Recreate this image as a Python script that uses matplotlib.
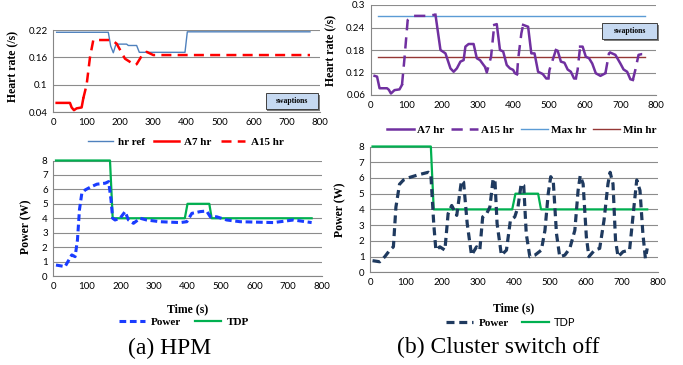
import numpy as np
import matplotlib
matplotlib.use("Agg")
import matplotlib.pyplot as plt
from matplotlib.lines import Line2D
from matplotlib.patches import Rectangle

N = None

# ---------------- (a) HPM : heart rate ----------------
t_ref = [10, 165, 172, 180, 188, 220, 225, 250, 258, 395, 402, 770]
hr_ref = [0.215, 0.215, 0.185, 0.170, 0.189, 0.189, 0.186, 0.186, 0.171, 0.171, 0.216, 0.216]

t_a = [10, 50, 55, 62, 70, 85, 90, 100, 110, 120, 175, 190, 215, 245, 250, 265, 280, 300, 770]
a7_a = [0.060, 0.060, 0.050, 0.044, 0.048, 0.050, 0.070, N, N, N, N, N, N, N, N, N, N, N, N]
a15_a = [N, N, N, N, N, N, 0.070, 0.100, 0.160, 0.198, 0.198, 0.190, 0.157, 0.143, 0.145, 0.163, 0.172, 0.165, 0.165]

# ---------------- (a) HPM : power ----------------
t_pa = [8, 35, 55, 65, 72, 78, 85, 95, 110, 130, 155, 165, 172, 177, 184, 199, 214, 224, 239, 259,
        278, 318, 378, 398, 413, 438, 457, 468, 487, 517, 557, 656, 716, 770]
pw_a = [0.76, 0.65, 1.46, 1.34, 2.5, 4.6, 5.73, 5.96, 6.15, 6.36, 6.43, 6.54, 5.27, 4.0, 3.88, 4.0,
        4.46, 3.88, 3.65, 4.0, 3.88, 3.76, 3.7, 3.76, 4.34, 4.46, 4.5, 4.1, 4.1, 3.88, 3.76, 3.7, 3.88, 3.7]
t_tdp_a = [8, 169, 177, 392, 400, 465, 472, 770]
tdp_a = [8, 8, 4, 4, 5, 5, 4, 4]

# ---------------- (b) Cluster switch off : heart rate ----------------
t_b = [10, 17, 24, 45, 50, 56, 66, 80, 87, 94, 103, 117, 154, 181, 195, 209, 223, 232, 241, 251,
       260, 265, 274, 288, 297, 306, 316, 320, 325, 337, 346, 353, 362, 371, 381, 390, 399, 404, 410,
       413, 422, 427, 441, 450, 459, 469, 482, 492, 498, 501, 519, 524, 533, 543, 552, 561, 570, 575,
       580, 587, 594, 603, 612, 621, 631, 644, 658, 668, 672, 686, 700, 709, 719, 728, 735, 742, 751,
       760, 770]
a7_b = [0.111, 0.109, 0.078, 0.078, 0.074, 0.064, 0.073, 0.075, 0.087, N, N, N, N, 0.274, 0.180, 0.171,
        0.131, 0.122, 0.131, 0.149, 0.153, 0.189, 0.196, 0.196, 0.158, 0.153, 0.140, 0.135, N, N, 0.247,
        0.249, 0.180, 0.176, 0.140, 0.131, 0.127, 0.118, 0.115, N, N, 0.247, 0.242, 0.171, 0.171, 0.122,
        0.116, 0.104, 0.104, N, 0.180, 0.178, 0.149, 0.146, 0.128, 0.122, 0.104, 0.104, N, 0.189, 0.189,
        0.162, 0.158, 0.144, 0.118, 0.111, 0.118, N, 0.173, 0.167, 0.144, 0.128, 0.122, 0.102, 0.100,
        N, N, N, N]
a15_b = [N, N, N, N, N, N, N, N, 0.087, 0.158, 0.260, 0.271, 0.271, 0.274, N, N, N, N, N, N,
         N, N, N, N, N, N, N, 0.135, 0.120, 0.162, 0.247, N, N, N, N, N, N, N, 0.115,
         0.155, 0.224, 0.247, N, N, N, N, N, N, 0.104, 0.127, 0.180, N, N, N, N, N, N, 0.104,
         0.127, 0.189, N, N, N, N, N, N, 0.118, 0.171, 0.173, N, N, N, N, N, 0.100, 0.127, 0.167,
         0.169, 0.169]
t_lim = [20, 770]
max_hr = [0.271, 0.271]
min_hr = [0.161, 0.161]

# ---------------- (b) Cluster switch off : power ----------------
t_pb = [7, 27, 41, 55, 65, 72, 82, 93, 111, 134, 162, 169, 177, 183, 194, 208, 217, 227, 241, 254,
        260, 270, 282, 296, 305, 313, 324, 333, 342, 347, 353, 365, 379, 390, 402, 411, 420, 427, 434,
        444, 458, 476, 486, 495, 502, 509, 518, 527, 541, 555, 569, 578, 584, 592, 601, 608, 624, 638,
        650, 661, 667, 675, 682, 689, 703, 721, 735, 741, 750, 758, 765, 770]
pw_b = [0.74, 0.67, 0.99, 1.41, 1.62, 4.15, 5.6, 5.87, 6.04, 6.2, 6.36, 6.25, 3.1, 1.41, 1.62, 1.41,
        3.73, 4.25, 3.62, 5.83, 5.73, 3.1, 1.09, 1.62, 1.41, 3.52, 3.73, 4.15, 5.94, 5.87, 3.1, 1.09,
        1.41, 3.3, 3.52, 4.15, 5.62, 5.52, 2.46, 0.99, 1.09, 1.41, 2.67, 4.99, 6.08, 5.83, 2.46, 0.99,
        1.09, 1.52, 2.67, 5.2, 6.15, 5.62, 2.25, 0.99, 1.41, 1.52, 3.3, 5.62, 6.36, 5.62, 2.04, 0.99,
        1.31, 1.41, 4.57, 5.87, 5.2, 2.46, 0.88, 1.52]
t_tdp_b = [7, 169, 177, 395, 404, 467, 475, 770]
tdp_b = [8, 8, 4, 4, 5, 5, 4, 4]

hr_ticks_a = [0.04, 0.1, 0.16, 0.22]
hr_ticks_b = [0.06, 0.12, 0.18, 0.24, 0.3]
pw_ticks = [0, 1, 2, 3, 4, 5, 6, 7, 8]
x_ticks = [0, 100, 200, 300, 400, 500, 600, 700, 800]


def arr(v):
    return np.array([np.nan if x is None else x for x in v], dtype=float)


W, H = 683, 365
fig = plt.figure(figsize=(W / 100, H / 100), dpi=100)

TICKF = "Lato"
SERIF = "Liberation Serif"


def make_ax(l, r, t, b):
    ax = fig.add_axes([l / W, 1 - b / H, (r - l) / W, (b - t) / H])
    for s in ["top", "right"]:
        ax.spines[s].set_visible(False)
    for s in ["left", "bottom"]:
        ax.spines[s].set_color("#868686")
        ax.spines[s].set_linewidth(0.8)
    ax.grid(axis="y", color="#8c8c8c", linewidth=0.8)
    ax.set_axisbelow(True)
    ax.tick_params(length=0, labelsize=7, pad=4, colors="#000000")
    ax.set_xlim(0, 800)
    ax.set_xticks(x_ticks)
    ax.set_xticklabels([str(v) for v in x_ticks], fontfamily=TICKF, fontsize=7)
    return ax


def ylab(ax, text, x, y):
    ax.set_ylabel(text, fontfamily=SERIF, fontweight="bold", fontsize=8.5)
    ax.yaxis.set_label_coords(x, y)


def fmt(v):
    return f"{v:g}"


def swaptions(ax, x0, x1, y0, y1):
    dx, dy = 0.006, -0.025
    ax.add_patch(Rectangle((x0 + dx, y0 + dy), x1 - x0, y1 - y0, transform=ax.transAxes,
                           facecolor="#7f7f7f", edgecolor="none", clip_on=False, zorder=5))
    ax.add_patch(Rectangle((x0, y0), x1 - x0, y1 - y0, transform=ax.transAxes,
                           facecolor="#c6d9f1", edgecolor="#404040", linewidth=0.7,
                           clip_on=False, zorder=6))
    ax.text((x0 + x1) / 2, (y0 + y1) / 2, "swaptions", transform=ax.transAxes, ha="center",
            va="center", fontfamily=SERIF, fontweight="bold", fontsize=5.5, zorder=7)


# ---- top-left
ax1 = make_ax(53.3, 320, 30, 112)
ax1.plot(t_ref, hr_ref, color="#4f81bd", lw=1.0)
ax1.plot(t_a, arr(a7_a), color="#ff0000", lw=1.8)
ax1.plot(t_a, arr(a15_a), color="#ff0000", lw=1.8, dashes=(4, 2.5))
ax1.set_ylim(0.04, 0.22)
ax1.set_yticks(hr_ticks_a)
ax1.set_yticklabels([fmt(v) for v in hr_ticks_a], fontfamily=TICKF, fontsize=7)
ylab(ax1, "Heart rate (/s)", -0.129, 0.55)
swaptions(ax1, 0.797, 0.993, 0.037, 0.232)

# ---- bottom-left
ax2 = make_ax(53.3, 321.7, 160.5, 276)
ax2.plot(t_tdp_a, tdp_a, color="#00b050", lw=1.6, clip_on=False)
ax2.plot(t_pa, pw_a, color="#1a3cff", lw=2.2, dashes=(2.2, 1.2))
ax2.set_ylim(0, 8)
ax2.set_yticks(pw_ticks)
ax2.set_yticklabels([fmt(v) for v in pw_ticks], fontfamily=TICKF, fontsize=7)
ylab(ax2, "Power (W)", -0.079, 0.43)
ax2.set_xlabel("Time (s)", fontfamily=SERIF, fontweight="bold", fontsize=8.5)
ax2.xaxis.set_label_coords(0.5, -0.233)

# ---- top-right
ax3 = make_ax(371, 656, 5, 95)
ax3.plot(t_lim, max_hr, color="#5b9bd5", lw=1.0)
ax3.plot(t_lim, min_hr, color="#953735", lw=1.0)
ax3.plot(t_b, arr(a7_b), color="#7030a0", lw=1.8)
ax3.plot(t_b, arr(a15_b), color="#7030a0", lw=1.8, dashes=(4.5, 2.8))
ax3.set_ylim(0.06, 0.3)
ax3.set_yticks(hr_ticks_b)
ax3.set_yticklabels([fmt(v) for v in hr_ticks_b], fontfamily=TICKF, fontsize=7)
ylab(ax3, "Heart rate (/s)", -0.119, 0.5)
swaptions(ax3, 0.81, 1.004, 0.622, 0.8)

# ---- bottom-right
ax4 = make_ax(370, 658, 146.5, 272.3)
ax4.plot(t_tdp_b, tdp_b, color="#00b050", lw=1.6, clip_on=False)
ax4.plot(t_pb, pw_b, color="#1f3a5f", lw=2.3, dashes=(2.5, 1.5))
ax4.set_ylim(0, 8)
ax4.set_yticks(pw_ticks)
ax4.set_yticklabels([fmt(v) for v in pw_ticks], fontfamily=TICKF, fontsize=7)
ylab(ax4, "Power (W)", -0.083, 0.5)
ax4.set_xlabel("Time (s)", fontfamily=SERIF, fontweight="bold", fontsize=8.5)
ax4.xaxis.set_label_coords(0.5, -0.24)

# ---- legends
lkw = dict(frameon=False, prop={"family": SERIF, "weight": "bold", "size": 8}, ncol=4,
           loc="center", handlelength=2.4, columnspacing=1.2, handletextpad=0.5)
h1 = [Line2D([], [], color="#4f81bd", lw=1.0),
      Line2D([], [], color="#ff0000", lw=1.8),
      Line2D([], [], color="#ff0000", lw=1.8, dashes=(4, 2.5))]
lkw1 = dict(lkw)
lkw1.update(columnspacing=0.8, handlelength=2.2)
fig.legend(h1, ["hr ref", "A7 hr", "A15 hr"], bbox_to_anchor=(186 / W, 1 - 142 / H), **lkw1)

h3 = [Line2D([], [], color="#7030a0", lw=1.8),
      Line2D([], [], color="#7030a0", lw=1.8, dashes=(4.5, 2.8)),
      Line2D([], [], color="#5b9bd5", lw=1.0),
      Line2D([], [], color="#953735", lw=1.0)]
lkw3 = dict(lkw)
lkw3.update(columnspacing=0.6, handletextpad=0.3)
fig.legend(h3, ["A7 hr", "A15 hr", "Max hr", "Min hr"], bbox_to_anchor=(522 / W, 1 - 130 / H), **lkw3)

h2 = [Line2D([], [], color="#1a3cff", lw=2.2, dashes=(2.2, 1.2)),
      Line2D([], [], color="#00b050", lw=1.6)]
fig.legend(h2, ["Power", "TDP"], bbox_to_anchor=(184 / W, 1 - 322 / H), **lkw)

h4 = [Line2D([], [], color="#1f3a5f", lw=2.3, dashes=(2.5, 1.5)),
      Line2D([], [], color="#00b050", lw=1.6)]
leg4 = fig.legend(h4, ["Power", "TDP"], bbox_to_anchor=(511 / W, 1 - 322 / H), **lkw)
leg4.get_texts()[1].set_fontfamily(TICKF)
leg4.get_texts()[1].set_fontweight("normal")

# ---- captions
fig.text(170 / W, 1 - 348 / H, "(a) HPM", ha="center", va="center", fontfamily=SERIF, fontsize=17)
fig.text(498 / W, 1 - 347 / H, "(b) Cluster switch off", ha="center", va="center",
         fontfamily=SERIF, fontsize=17)

fig.savefig("out.png", dpi=100)
